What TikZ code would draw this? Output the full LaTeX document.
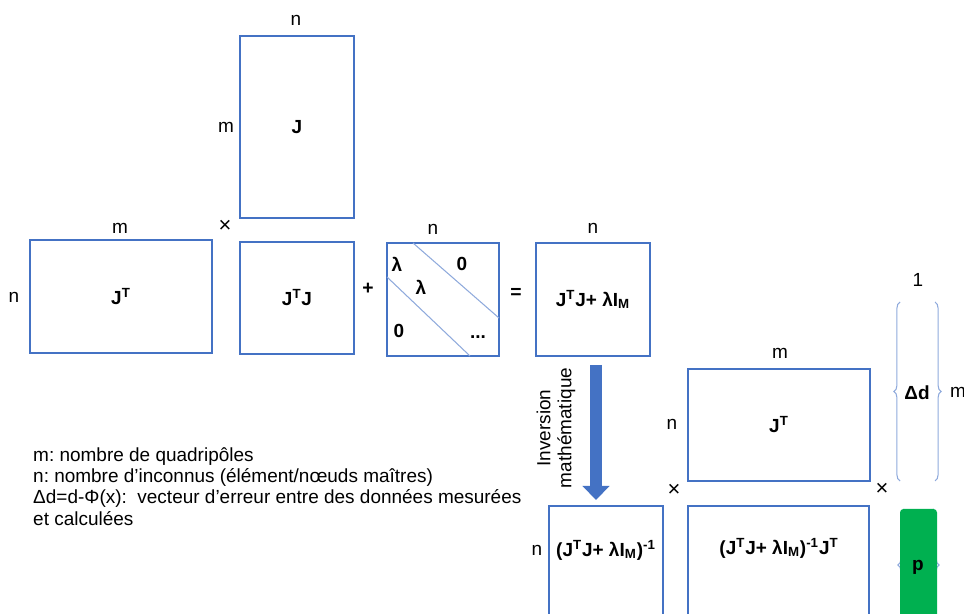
\documentclass[tikz,border=0pt]{standalone}
\usepackage{fontspec}
\setmainfont{Liberation Sans}
\usetikzlibrary{fit,arrows.meta,decorations.pathreplacing}
\definecolor{matblue}{HTML}{4472C4}
\definecolor{diagblue}{HTML}{8FAADC}
\definecolor{pgreen}{HTML}{00B050}
\frenchspacing
\newcommand{\JT}{J\textsuperscript{T}}
\newcommand{\LI}{\JT J+ λI\textsubscript{M}}
\tikzset{
  mat/.style={draw=matblue, line width=0.9pt, inner sep=0pt},
  entry/.style={font=\fontsize{10.8}{12}\selectfont\bfseries},
  dimlab/.style={font=\fontsize{10.8}{12}\selectfont},
  opsign/.style={font=\fontsize{11}{12}\selectfont\bfseries},
  timesign/.style={font=\fontsize{12.5}{12}\selectfont},
  bracket/.style={draw=diagblue, line width=0.6pt, decorate, decoration={brace, amplitude=3.5pt}},
  bigarrow/.style={draw=matblue, line width=6.8pt, -{Triangle[length=8pt, width=15pt]}},
}
\begin{document}
\begin{tikzpicture}[x=0.02cm, y=-0.02cm]
  \useasboundingbox (0,0) rectangle (964,614);
  \clip (0,0) rectangle (964,614);

  % First product: J^T x J
  \node[mat, fit={(240,36) (354,218)}] (J) {};
  \node[entry] (Jtxt) at (J.center) {J};
  \node[dimlab] (Jn) at (296,20) {n};
  \node[dimlab] (Jm) at (226,127) {m};
  \node[mat, fit={(30,240) (212,353)}] (JT) {};
  \node[entry] (JTtxt) at (JT.center) {\JT};
  \node[dimlab] (JTm) at (120,228) {m};
  \node[dimlab] (JTn) at (14,297) {n};
  \node[mat, fit={(240,242) (354,354)}] (JJ) {};
  \node[entry] (JJtxt) at (JJ.center) {\JT J};
  \node[timesign] (times1) at (225,226) {×};
  \node[opsign] (plus) at (368,289) {+};

  % Damping matrix
  \node[mat, fit={(387,243) (499,356)}] (lam) {};
  \node[dimlab] (lamn) at (433,229) {n};
  \draw[diagblue, line width=0.6pt] (413,243) -- (499,318);
  \draw[diagblue, line width=0.6pt] (387,277) -- (470,356);
  \node[entry] (l1) at (397,264) {λ};
  \node[entry] (z1) at (462,264) {0};
  \node[entry] (l2) at (421,287) {λ};
  \node[entry] (z2) at (399,331) {0};
  \node[entry] (dots) at (478,337) {...};
  \node[opsign] (equal) at (516,293) {=};

  \node[mat, fit={(536,243) (650,356)}] (JJL) {};
  \node[entry] (JJLtxt) at (JJL.center) {\LI};
  \node[dimlab] (JJLn) at (593,228) {n};

  % Inversion
  \coordinate (arrtop) at (596,365);
  \coordinate (arrtip) at (596,500);
  \draw[bigarrow] (arrtop) -- (arrtip);
  \node[dimlab, rotate=90, align=center] (invlab) at (556,428) {Inversion\\mathématique};

  % Second product
  \node[mat, fit={(688,369) (870,481)}] (JT2) {};
  \node[entry] (JT2txt) at (JT2.center) {\JT};
  \node[dimlab] (JT2m) at (780,353) {m};
  \node[dimlab] (JT2n) at (672,424) {n};
  \node[timesign] (times2) at (674,490) {×};
  \node[timesign] (times3) at (882,489) {×};
  \node[mat, fit={(549,506) (663,630)}] (inv) {};
  \node[entry] (invtxt) at (606,550) {(\LI)\textsuperscript{-1}};
  \node[dimlab] (invn) at (537,550) {n};
  \node[mat, fit={(688,506) (869,630)}] (invJT) {};
  \node[entry] (invJTtxt) at (779,548) {(\LI)\textsuperscript{-1}\JT};

  % Data vector
  \draw[bracket] (900,481) -- (900,302);
  \draw[bracket] (935,302) -- (935,481);
  \node[entry] (dd) at (917,393) {Δd};
  \node[dimlab] (ddone) at (918,280) {1};
  \node[dimlab] (ddm) at (958,392) {m};

  % Model update
  \draw[bracket] (904,621) -- (904,509);
  \draw[bracket] (933,509) -- (933,621);
  \node[mat, draw=none, fill=pgreen, rounded corners=2pt, fit={(900,509) (937,630)}] (p) {};
  \node[entry] (ptxt) at (918,567) {p};

  % Legend
  \node[dimlab, anchor=north west, align=left, font=\fontsize{10.8}{12.2}\selectfont] (legend) at (27,441)
    {m: nombre de quadripôles\\
     n: nombre d’inconnus (élément/nœuds maîtres)\\
     Δd=d-Φ(x):\ \ vecteur d’erreur entre des données mesurées\\
     et calculées};
\end{tikzpicture}
\end{document}
